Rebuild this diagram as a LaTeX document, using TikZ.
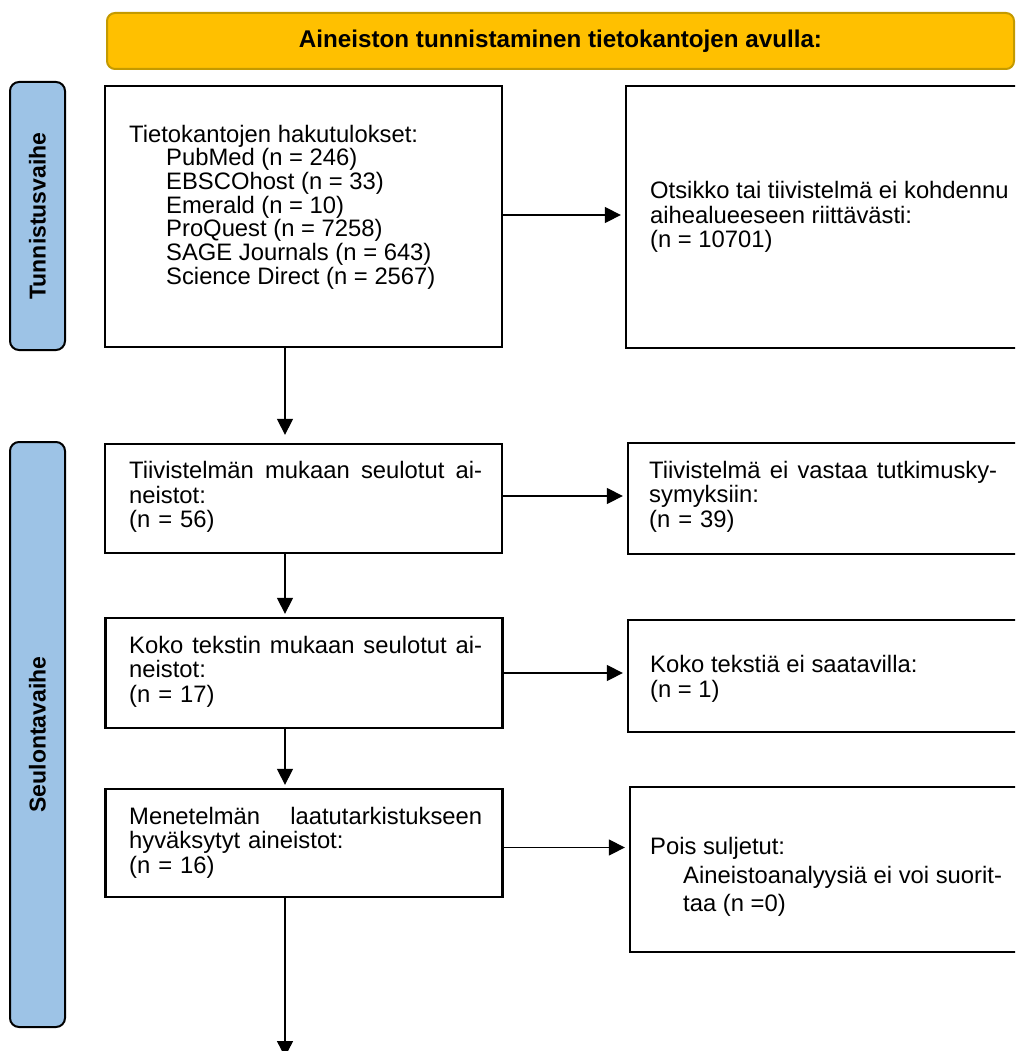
\documentclass[tikz,border=0pt]{standalone}
\usepackage{fontspec}
\setmainfont{Liberation Sans}
\usetikzlibrary{arrows.meta}
\definecolor{gold}{HTML}{FFC000}
\definecolor{goldline}{HTML}{C49A00}
\definecolor{barblue}{HTML}{9DC3E6}
\begin{document}
\begin{tikzpicture}[x=1pt,y=-1pt,
  box/.style={draw, line width=2.3pt, minimum width=397pt, inner sep=0pt},
  txt/.style={anchor=west, inner sep=0pt, align=left, font=\fontsize{23.8}{24.5}\selectfont},
  arr/.style={line width=1.3pt, -{Triangle[length=16pt,width=16pt]}},
  bar/.style={draw, line width=2pt, fill=barblue, rounded corners=9pt, minimum width=55pt, inner sep=0pt},
  lbl/.style={font=\fontsize{23}{24}\selectfont\bfseries, rotate=90, inner sep=0pt}]
\useasboundingbox (0,0) rectangle (1015,1051);
\begin{scope}
\clip (0,0) rectangle (1015,1051);
% banner
\node[draw=goldline, fill=gold, line width=2pt, rounded corners=8pt, minimum width=907pt, minimum height=56pt, inner sep=0pt, font=\fontsize{24.2}{25}\selectfont\bfseries] (ban) at (560.5,41) {Aineiston tunnistaminen tietokantojen avulla:};
% phase bars
\node[bar, minimum height=268pt] (p1) at (37.5,216) {};
\node[lbl] (p1t) at (p1.center) {Tunnistusvaihe};
\node[bar, minimum height=585pt] (p2) at (37.5,734.5) {};
\node[lbl] (p2t) at (p2.center) {Seulontavaihe};
% boxes
\node[box, minimum height=261pt] (A) at (303.5,216.5) {};
\node[box, minimum height=262pt] (B) at (824.5,217) {};
\node[box, minimum height=109pt] (C) at (303.5,498.5) {};
\node[box, minimum height=111pt] (D) at (826.5,498.5) {};
\node[box, minimum height=110pt] (E) at (304,673) {};
\node[box, minimum height=112pt] (F) at (826.5,676) {};
\node[box, minimum height=108pt] (G) at (304,843) {};
\node[box, minimum height=165pt] (H) at (828.5,869.5) {};
% texts
\node[txt, font=\fontsize{23.8}{23.7}\selectfont] (At) at (129,207) {Tietokantojen hakutulokset:\\
\hspace*{37pt}PubMed (n = 246)\\
\hspace*{37pt}EBSCOhost (n = 33)\\
\hspace*{37pt}Emerald (n = 10)\\
\hspace*{37pt}ProQuest (n = 7258)\\
\hspace*{37pt}SAGE Journals (n = 643)\\
\hspace*{37pt}Science Direct (n = 2567)};
\node[txt] (Bt) at (650,217) {Otsikko tai tiivistelmä ei kohdennu\\aihealueeseen riittävästi:\\(n = 10701)};
\node[txt, text width=353pt] (Ct) at (129,497) {Tiivistelmän\hfill mukaan\hfill seulotut\hfill ai-\\neistot:\\(n = 56)};
\node[txt, text width=348pt] (Dt) at (649,496.5) {Tiivistelmä\hfill ei\hfill vastaa\hfill tutkimusky-\\symyksiin:\\(n = 39)};
\node[txt, text width=353pt] (Et) at (129,671.5) {Koko\hfill tekstin\hfill mukaan\hfill seulotut\hfill ai-\\neistot:\\(n = 17)};
\node[txt] (Ft) at (650,679) {Koko tekstiä ei saatavilla:\\(n = 1)};
\node[txt, text width=353pt] (Gt) at (129,842.5) {Menetelmän\hfill laatutarkistukseen\\hyväksytyt aineistot:\\(n = 16)};
\node[txt, font=\fontsize{23.8}{28.5}\selectfont] (Ht) at (650,877) {Pois suljetut:\\\hspace*{33pt}Aineistoanalyysiä ei voi suorit-\\\hspace*{33pt}taa (n =0)};
% connectors
\coordinate (ax) at (285,0);
\coordinate (end) at (285,1057);
\draw[arr, shorten >=8pt] (A.south -| ax) -- (C.north -| ax);
\draw[arr, shorten >=3pt] (C.south -| ax) -- (E.north -| ax);
\draw[arr, shorten >=3pt] (E.south -| ax) -- (G.north -| ax);
\draw[arr] (G.south -| ax) -- (end);
\path ([yshift=1.5pt]A.east) coordinate (a1);
\path ([yshift=2.5pt]C.east) coordinate (c1);
\path (E.east) coordinate (e1);
\path ([yshift=-4.5pt]G.east) coordinate (g1);
\draw[arr, shorten >=4pt] (a1) -- (a1 -| B.west);
\draw[arr, shorten >=4pt] (c1) -- (c1 -| D.west);
\draw[arr, shorten >=4pt] (e1) -- (e1 -| F.west);
\draw[arr, shorten >=4pt] (g1) -- (g1 -| H.west);
\end{scope}
\end{tikzpicture}
\end{document}
